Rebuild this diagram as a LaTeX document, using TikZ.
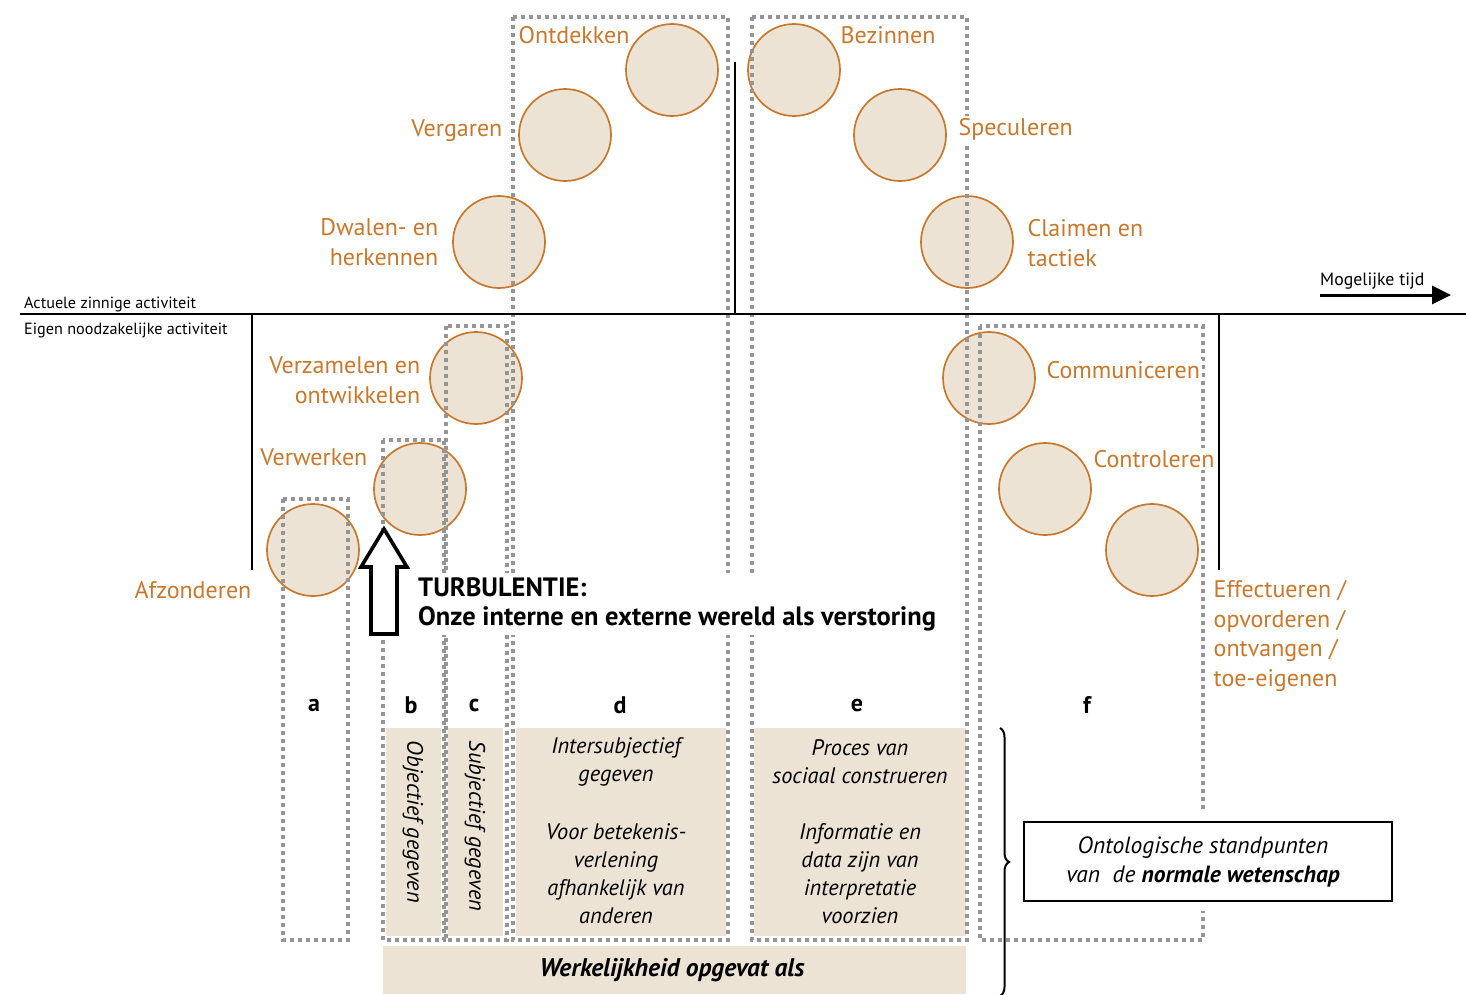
\documentclass[tikz,border=0pt]{standalone}
\usepackage{fontspec}
\setmainfont{PT Sans}
\usetikzlibrary{arrows.meta,decorations.pathreplacing}
\definecolor{orn}{HTML}{C8782C}
\definecolor{beige}{HTML}{EDE3D5}
\definecolor{dgray}{HTML}{959595}
\begin{document}
\begin{tikzpicture}[x=1pt,y=-1pt,
  circ/.style={circle,draw=orn,fill=beige,line width=1.7pt,minimum size=92pt,inner sep=0pt},
  lbl/.style={text=orn,font=\fontsize{24}{29.5}\selectfont,inner sep=2.5pt,fill=white},
  small/.style={font=\fontsize{16.2}{18}\selectfont,inner sep=0pt},
  dbox/.style={draw=dgray,line width=3.2pt,dash pattern=on 3.6pt off 4.4pt},
  bfill/.style={fill=beige,draw=none},
  itx/.style={font=\fontsize{22.4}{28}\selectfont\itshape,align=center,inner sep=0pt},
  colletter/.style={font=\fontsize{24}{26}\selectfont\bfseries,inner sep=0pt},
  turbtext/.style={font=\fontsize{26.5}{29}\selectfont\bfseries,align=left,inner sep=4pt,fill=white},
  axis/.style={line width=2.4pt}]
\useasboundingbox (0,0) rectangle (1466,994);

% beige filled areas
\fill[bfill] (386,728) rectangle (441,936);
\fill[bfill] (448,728) rectangle (503,936);
\fill[bfill] (516,728) rectangle (726,936);
\fill[bfill] (754,728) rectangle (966,936);
\fill[bfill] (383,946) rectangle (966,994);

% circles
\node[circ] (ontd) at (672,70) {};
\node[circ] (verg) at (565,135) {};
\node[circ] (dwal) at (499,242) {};
\node[circ] (bezi) at (794,70) {};
\node[circ] (spec) at (900,135) {};
\node[circ] (clai) at (967,242) {};
\node[circ] (verz) at (476,378) {};
\node[circ] (verw) at (420,489) {};
\node[circ] (afzo) at (313,550) {};
\node[circ] (comm) at (989,378) {};
\node[circ] (cont) at (1045,489) {};
\node[circ] (effe) at (1152,550) {};

% dashed column boxes
\draw[dbox] (283,499) rectangle (348,940);
\draw[dbox] (383,440) rectangle (444,940);
\draw[dbox] (446,326) rectangle (507,940);
\draw[dbox] (513,17) rectangle (728,940);
\draw[dbox] (752,17) rectangle (967,940);
\draw[dbox] (980,326) rectangle (1203,940);

% axes
\draw[axis] (20,314) -- (1466,314);
\draw[axis] (252,314) -- (252,570);
\draw[axis] (1219,314) -- (1219,570);
\draw[line width=1.3pt] (735,62) -- (735,314);

\node[small,anchor=base west] (act) at (24,308) {Actuele zinnige activiteit};
\node[small,anchor=base west] (eig) at (24,334) {Eigen noodzakelijke activiteit};

\coordinate (t1) at (1320,295);
\coordinate (t2) at (1451,295);
\draw[line width=3pt,-{Triangle[length=19pt,width=18pt]}] (t1) -- (t2);
\node[font=\fontsize{17.8}{20}\selectfont,inner sep=0pt,anchor=base west] (mog) at (1320,285) {Mogelijke tijd};

% orange labels
\node[lbl,anchor=west] (lontd) at (516,35) {Ontdekken};
\node[lbl,anchor=east] (lverg) at (505,131) {Vergaren};
\node[lbl,anchor=east,align=right] (ldwal) at (441,242) {Dwalen- en\\herkennen};
\node[lbl,anchor=west] (lbezi) at (838,35) {Bezinnen};
\node[lbl,anchor=west] (lspec) at (956,129) {Speculeren};
\node[lbl,anchor=west,align=left] (lclai) at (1025,243) {Claimen en\\tactiek};
\node[lbl,anchor=east,align=right] (lverz) at (423,380) {Verzamelen en\\ontwikkelen};
\node[lbl,anchor=east] (lverw) at (370,457) {Verwerken};
\node[lbl,anchor=east] (lafzo) at (254,590) {Afzonderen};
\node[lbl,anchor=west] (lcomm) at (1044,370) {Communiceren};
\node[lbl,anchor=west] (lcont) at (1091,459) {Controleren};
\node[lbl,anchor=west,align=left] (leffe) at (1211,636) {Effectueren /\\opvorderen /\\ontvangen /\\toe-eigenen};

% turbulence arrow
\draw[line width=3.6pt,fill=white,line join=miter] (384,529) -- (407,567) -- (397,567) -- (397,634) -- (371,634) -- (371,567) -- (361,567) -- cycle;
\node[turbtext,anchor=west] (turb) at (414,604) {TURBULENTIE:\\Onze interne en externe wereld als verstoring};

% column letters
\node[colletter] (la) at (314,705) {a};
\node[colletter] (lb) at (411,705) {b};
\node[colletter] (lc) at (474,705) {c};
\node[colletter] (ld) at (620,705) {d};
\node[colletter] (le) at (857,705) {e};
\node[colletter] (lf) at (1087,705) {f};

% column texts
\node[itx,rotate=-90] (tb) at (413,822) {Objectief gegeven};
\node[itx,rotate=-90] (tc) at (475,826) {Subjectief gegeven};
\node[itx] (td1) at (616,762) {Intersubjectief\\gegeven};
\node[itx] (td2) at (616,874) {Voor betekenis-\\verlening\\afhankelijk van\\anderen};
\node[itx] (te1) at (860,762) {Proces van\\sociaal construeren};
\node[itx] (te2) at (860,874) {Informatie en\\data zijn van\\interpretatie\\voorzien};
\node[font=\fontsize{25.5}{28}\selectfont\bfseries\itshape,inner sep=0pt] (werk) at (672,970) {Werkelijkheid opgevat als};

% brace and box
\coordinate (br1) at (1000,728);
\coordinate (br2) at (1000,996);
\draw[line width=2pt,decorate,decoration={brace,amplitude=9pt}] (br1) -- (br2);
\fill[white] (1018,809) rectangle (1398,911);
\draw[line width=2.2pt] (1024,822) rectangle (1392,901);
\node[inner sep=0pt,font=\fontsize{23.5}{29}\selectfont\itshape,align=center] (onto) at (1203,861.5)
      {Ontologische standpunten\\van\ \ de \textbf{normale wetenschap}};
\end{tikzpicture}
\end{document}
